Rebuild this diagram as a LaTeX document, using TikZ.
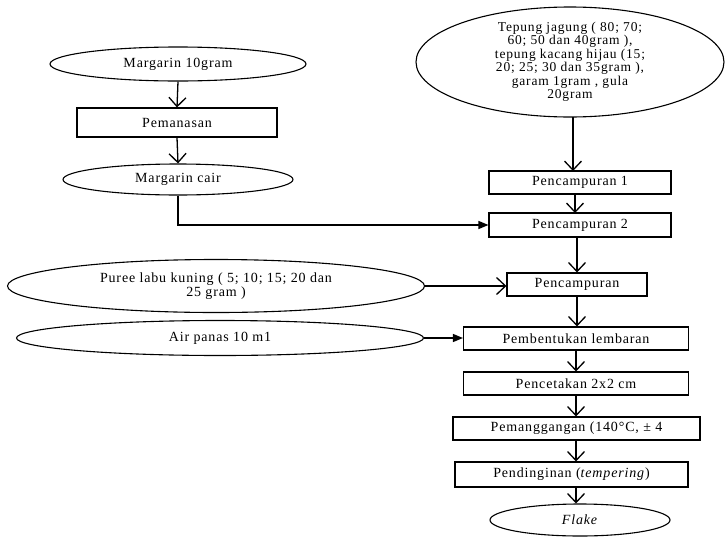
\documentclass[tikz,border=0pt]{standalone}
\usepackage{fontspec}
\setmainfont{Liberation Serif}
\usetikzlibrary{shapes.geometric,arrows.meta}
\begin{document}
\begin{tikzpicture}[x=1pt,y=-1pt,
  every node/.style={font=\fontsize{14}{12.5}\selectfont\addfontfeature{LetterSpace=6}, inner sep=0pt, align=center},
  oval/.style={draw, ellipse, line width=1.1pt},
  box/.style={draw, rectangle, line width=1.1pt},
  link/.style={line width=1.3pt},
  vee/.style={link, -{Straight Barb[length=9pt,width=17pt,line width=1.3pt]}},
  tri/.style={link, -{Triangle[length=10pt,width=8pt]}}]
\useasboundingbox (0,0) rectangle (726,536);
% left column
\node[oval, minimum width=256pt, minimum height=34pt] (m10) at (178,64) {Margarin 10gram};
\node[box, minimum width=200pt, minimum height=29pt] (pem) at (177,122.5) {Pemanasan};
\node[oval, minimum width=230pt, minimum height=31pt] (mc) at (178,179.5) {Margarin cair};
\node[oval, minimum width=417pt, minimum height=53pt] (pur) at (216,286) {Puree labu kuning ( 5; 10; 15; 20 dan\\25 gram )};
\node[oval, minimum width=407pt, minimum height=35pt] (air) at (220,338) {Air panas 10 m1};
% right column
\node[oval, minimum width=308pt, minimum height=110pt, inner sep=-10pt,
      font=\fontsize{13.5}{13.5}\selectfont\addfontfeature{LetterSpace=6}] (tep) at (570,62) {Tepung jagung ( 80; 70;\\60; 50 dan 40gram ),\\tepung kacang hijau (15;\\20; 25; 30 dan 35gram ),\\garam 1gram , gula\\20gram};
\node[box, minimum width=182pt, minimum height=23pt] (p1) at (580,182.5) {Pencampuran 1};
\node[box, minimum width=182pt, minimum height=24pt] (p2) at (580,225) {Pencampuran 2};
\node[box, minimum width=140pt, minimum height=23pt] (pc) at (577,284.5) {Pencampuran};
\node[box, minimum width=225pt, minimum height=23pt] (pemb) at (576,338.5) {Pembentukan lembaran};
\node[box, minimum width=225pt, minimum height=23pt] (pcet) at (576,383.5) {Pencetakan 2x2 cm};
\node[box, minimum width=247pt, minimum height=23pt] (pemg) at (576.5,428.5) {Pemanggangan (140°C, ± 4};
\node[box, minimum width=233pt, minimum height=25pt] (pend) at (571.5,474.5) {Pendinginan (\textit{tempering})};
\node[oval, minimum width=180pt, minimum height=32pt] (flk) at (580,520) {\textit{Flake}};
% connectors
\draw[vee] (m10.south) -- (pem.north);
\draw[vee] (pem.south) -- (mc.south |- mc.north);
\draw[tri] (mc.south) |- (p2.west);
\draw[vee] (573,117) -- (573,171);
\draw[vee] (575,194) -- (575,213);
\draw[vee] (577,237) -- (pc.north);
\draw[vee] (pur.east) -- (pur.east -| pc.west);
\draw[vee] (pc.south) -- (pc.south |- pemb.north);
\draw[tri] (air.east) -- (air.east -| pemb.west);
\draw[vee] (pemb.south) -- (pcet.north);
\draw[vee] (pcet.south) -- (pcet.south |- pemg.north);
\draw[vee] (pcet.south |- pemg.south) -- (pcet.south |- pend.north);
\draw[vee] (pcet.south |- pend.south) -- (pcet.south |- flk.north);
\end{tikzpicture}
\end{document}
